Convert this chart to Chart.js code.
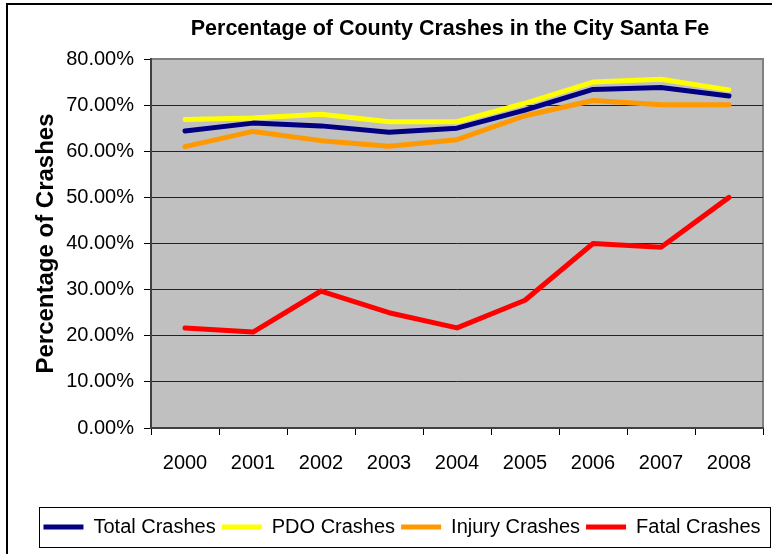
<!DOCTYPE html>
<html>
<head>
<meta charset="utf-8">
<script src="https://cdn.jsdelivr.net/npm/chart.js@4/dist/chart.umd.min.js"></script>
<style>
  html, body { margin: 0; padding: 0; background: #fff; }
  #wrap { width: 772px; height: 554px; }
</style>
</head>
<body>
<div id="wrap"><canvas id="c" width="772" height="554"></canvas></div>
<script>
const categories = ['2000','2001','2002','2003','2004','2005','2006','2007','2008'];
const totalCrashes  = [64.4, 66.1, 65.5, 64.1, 65.0, 68.9, 73.4, 73.8, 72.0];
const pdoCrashes    = [66.9, 67.2, 68.0, 66.4, 66.4, 70.4, 75.0, 75.6, 73.3];
const injuryCrashes = [61.0, 64.3, 62.3, 61.1, 62.5, 67.7, 71.0, 70.1, 70.1];
const fatalCrashes  = [21.7, 20.8, 29.7, 25.0, 21.7, 27.7, 40.0, 39.2, 50.0];
const seriesNames = ['Total Crashes', 'PDO Crashes', 'Injury Crashes', 'Fatal Crashes'];
const titleText = 'Percentage of County Crashes in the City Santa Fe';
const yTitleText = 'Percentage of Crashes';

const SANS = "'Liberation Sans', Arial, sans-serif";

const decor = {
  id: 'decor',
  beforeDraw(chart) {
    const ctx = chart.ctx, a = chart.chartArea;
    ctx.save();
    ctx.fillStyle = '#fff';
    ctx.fillRect(0, 0, chart.width, chart.height);
    ctx.strokeStyle = '#000';
    ctx.lineWidth = 2;
    ctx.beginPath();
    ctx.moveTo(7, chart.height + 2);
    ctx.lineTo(7, 4);
    ctx.lineTo(chart.width + 2, 4);
    ctx.stroke();
    ctx.fillStyle = '#C0C0C0';
    ctx.fillRect(a.left, a.top, a.right - a.left, a.bottom - a.top);
    ctx.strokeStyle = '#808080';
    ctx.lineWidth = 2;
    ctx.strokeRect(a.left, a.top, a.right - a.left, a.bottom - a.top);
    ctx.restore();
  },
  afterDraw(chart) {
    const ctx = chart.ctx, a = chart.chartArea;
    ctx.save();
    ctx.fillStyle = '#000';
    ctx.font = "bold 21.5px " + SANS;
    ctx.textAlign = 'center';
    ctx.textBaseline = 'middle';
    ctx.fillText(titleText, (a.left + a.right) / 2 - 7, 29);
    ctx.strokeStyle = '#000';
    ctx.lineWidth = 1;
    ctx.strokeRect(39.5, 507.5, 731, 40);
    ctx.restore();
  }
};

const common = { fill: false, borderWidth: 5, pointRadius: 0, pointHoverRadius: 0, tension: 0, borderCapStyle: 'round', borderJoinStyle: 'round' };

new Chart(document.getElementById('c'), {
  type: 'line',
  data: {
    labels: categories,
    datasets: [
      Object.assign({ label: seriesNames[0], data: totalCrashes,  borderColor: '#000080', backgroundColor: '#000080' }, common),
      Object.assign({ label: seriesNames[1], data: pdoCrashes,    borderColor: '#FFFF00', backgroundColor: '#FFFF00' }, common),
      Object.assign({ label: seriesNames[2], data: injuryCrashes, borderColor: '#FF9900', backgroundColor: '#FF9900' }, common),
      Object.assign({ label: seriesNames[3], data: fatalCrashes,  borderColor: '#FF0000', backgroundColor: '#FF0000' }, common)
    ]
  },
  options: {
    responsive: false,
    animation: false,
    devicePixelRatio: 1,
    layout: { padding: { left: 32, right: 0, top: 59, bottom: 7 } },
    plugins: {
      title: { display: false },
      tooltip: { enabled: false },
      legend: {
        position: 'bottom',
        labels: {
          usePointStyle: true,
          pointStyle: 'line',
          pointStyleWidth: 40,
          padding: 6,
          color: '#000',
          font: { family: SANS, size: 20 }
        }
      }
    },
    scales: {
      x: {
        type: 'category',
        offset: true,
        afterFit(s) { s.height = 83; },
        grid: { offset: true, drawOnChartArea: false, drawTicks: true, tickLength: 7, color: '#000', lineWidth: 1 },
        border: { display: true, color: '#404040', width: 2 },
        ticks: { color: '#000', padding: 16, font: { family: SANS, size: 20 }, maxRotation: 0, autoSkip: false }
      },
      y: {
        min: 0, max: 80,
        afterFit(s) { s.width = 119; },
        grid: {
          color: (c) => (c.tick && c.tick.value === 80) ? '#808080' : '#222',
          tickColor: '#000', tickLength: 7, lineWidth: 1
        },
        border: { display: true, color: '#404040', width: 2 },
        ticks: {
          stepSize: 10, color: '#000', padding: 10,
          font: { family: SANS, size: 20 },
          callback: (v) => Number(v).toFixed(2) + '%'
        },
        title: { display: true, text: yTitleText, color: '#000', padding: 0, font: { family: SANS, size: 24, weight: 'bold' } }
      },
      y2: {
        position: 'right',
        display: true,
        afterFit(s) { s.width = 9; },
        grid: { display: false, drawTicks: false },
        border: { display: false },
        ticks: { display: false }
      }
    }
  },
  plugins: [decor]
});
</script>
</body>
</html>
